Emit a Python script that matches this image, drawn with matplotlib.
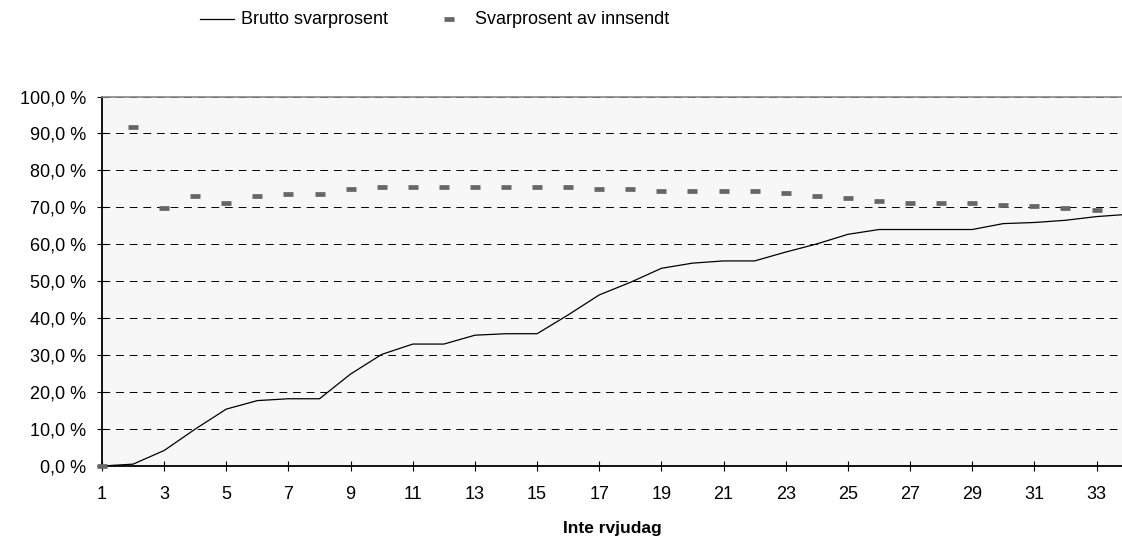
import matplotlib
matplotlib.use("Agg")
import matplotlib.pyplot as plt
from matplotlib.lines import Line2D
from matplotlib.ticker import FuncFormatter, FixedLocator

days = list(range(1, 35))
brutto = [0.0, 0.5, 4.2, 10.0, 15.4, 17.7, 18.2, 18.2, 24.9, 30.2,
          33.0, 33.0, 35.4, 35.8, 35.8, 40.9, 46.3, 49.7, 53.5, 54.9,
          55.5, 55.5, 57.9, 60.1, 62.7, 64.0, 64.0, 64.0, 64.0, 65.6,
          65.9, 66.5, 67.5, 68.1]
innsendt_days = list(range(1, 34))
innsendt = [0.0, 91.7, 69.8, 73.1, 71.2, 73.1, 73.6, 73.6, 75.0, 75.5,
            75.5, 75.5, 75.5, 75.5, 75.5, 75.5, 74.9, 74.9, 74.5, 74.5,
            74.5, 74.5, 73.9, 73.1, 72.6, 71.7, 71.2, 71.2, 71.2, 70.7,
            70.3, 69.8, 69.3]
y_ticks = list(range(0, 101, 10))
x_ticks = list(range(1, 34, 2))
series_names = ['Brutto svarprosent', 'Svarprosent av innsendt']

plt.rcParams['font.family'] = ['Liberation Sans', 'DejaVu Sans']
FS = 13

W, H = 1122, 540
fig = plt.figure(figsize=(W / 100, H / 100), dpi=100)
ax = fig.add_axes([102 / W, 74 / H, 1 - 102 / W, (466 - 96.5) / H])
ax.set_facecolor('#f7f7f7')

ax.plot(days, brutto, color='black', lw=0.9, label=series_names[0], zorder=3)
ax.plot(innsendt_days, innsendt, ls='none', marker='_', markersize=7, mew=3.4,
        color='#666666', label=series_names[1], zorder=4, clip_on=False)

ax.set_xlim(1, 33.82)
ax.set_ylim(0, 100)
ax.yaxis.set_major_locator(FixedLocator(y_ticks))
ax.xaxis.set_major_locator(FixedLocator(x_ticks))
ax.yaxis.set_major_formatter(FuncFormatter(lambda v, p: f"{v:.1f}".replace('.', ',') + " %"))
ax.xaxis.set_major_formatter(FuncFormatter(lambda v, p: f"{int(v)}"))

ax.grid(axis='y', color='black', ls=(0, (8, 6)), lw=0.7)
ax.set_axisbelow(True)

ax.spines['right'].set_visible(False)
ax.spines['top'].set_color('#888888')
ax.spines['top'].set_linewidth(1.2)
for s in ['left', 'bottom']:
    ax.spines[s].set_color('black')
    ax.spines[s].set_linewidth(1.3)

ax.tick_params(axis='y', direction='inout', length=7, width=0.8, pad=8, labelsize=FS, colors='black')
ax.tick_params(axis='x', direction='inout', length=7, width=0.8, pad=11, labelsize=FS, colors='black')

ax.set_xlabel('Inte rvjudag', fontsize=12.5, fontweight='bold', labelpad=13)

# legend drawn at the top of the figure
ly = 1 - 19 / H
fig.add_artist(Line2D([200 / W, 234 / W], [ly, ly], color='black', lw=0.9,
                      transform=fig.transFigure))
fig.text(241 / W, ly, series_names[0], fontsize=FS, va='center', ha='left')
fig.add_artist(Line2D([449 / W], [ly], ls='none', marker='_', markersize=7, mew=3.4,
                      color='#666666', transform=fig.transFigure))
fig.text(475 / W, ly, series_names[1], fontsize=FS, va='center', ha='left')

fig.savefig('out.png', dpi=100)
